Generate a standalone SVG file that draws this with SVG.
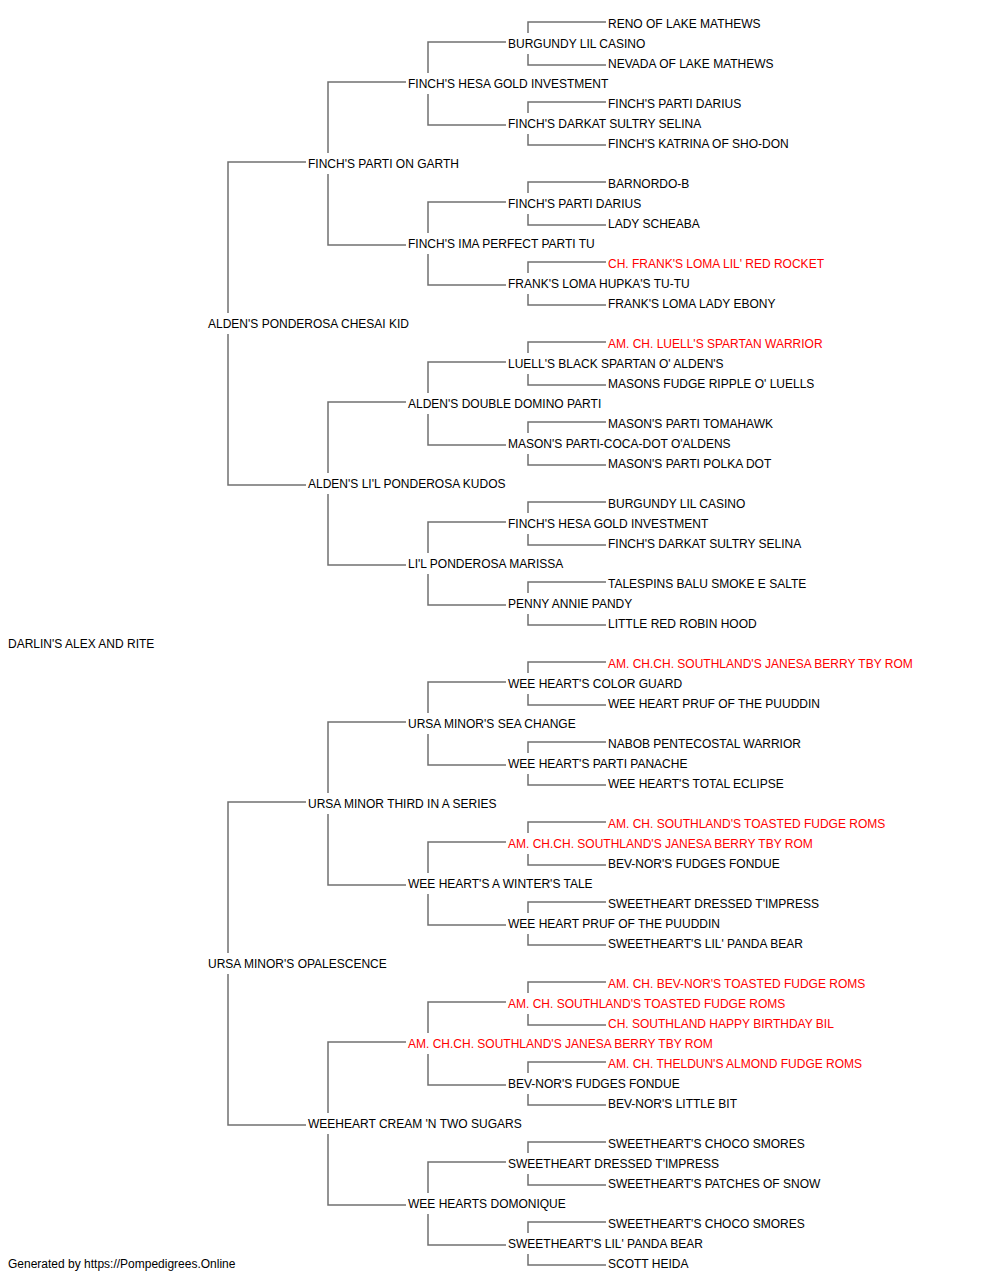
<svg xmlns="http://www.w3.org/2000/svg" width="1000" height="1280" viewBox="0 0 1000 1280">
<style>
text{font-family:"Liberation Sans",Arial,sans-serif;font-size:12px;fill:#000}
text.r{fill:#ff0000}
.c path{stroke:#707070;stroke-width:1.5;fill:none}
</style>
<rect width="1000" height="1280" fill="#fff"/>
<g class="c" id="connectors">
<path d="M228,313V162H306M228,334V485H306M228,953V802H306M228,974V1125H306"/>
<path d="M328,153V82H406M328,174V245H406M328,473V402H406M328,494V565H406M328,793V722H406M328,814V885H406M328,1113V1042H406M328,1134V1205H406"/>
<path d="M428,73V42H506M428,94V125H506M428,233V202H506M428,254V285H506M428,393V362H506M428,414V445H506M428,553V522H506M428,574V605H506M428,713V682H506M428,734V765H506M428,873V842H506M428,894V925H506M428,1033V1002H506M428,1054V1085H506M428,1193V1162H506M428,1214V1245H506"/>
<path d="M528,33V22H606M528,54V65H606M528,113V102H606M528,134V145H606M528,193V182H606M528,214V225H606M528,273V262H606M528,294V305H606M528,353V342H606M528,374V385H606M528,433V422H606M528,454V465H606M528,513V502H606M528,534V545H606M528,593V582H606M528,614V625H606M528,673V662H606M528,694V705H606M528,753V742H606M528,774V785H606M528,833V822H606M528,854V865H606M528,913V902H606M528,934V945H606M528,993V982H606M528,1014V1025H606M528,1073V1062H606M528,1094V1105H606M528,1153V1142H606M528,1174V1185H606M528,1233V1222H606M528,1254V1265H606"/>
</g>
<g id="n0"><text x="608" y="28">RENO OF LAKE MATHEWS</text></g>
<g id="n1"><text x="508" y="48">BURGUNDY LIL CASINO</text></g>
<g id="n2"><text x="608" y="68">NEVADA OF LAKE MATHEWS</text></g>
<g id="n3"><text x="408" y="88">FINCH'S HESA GOLD INVESTMENT</text></g>
<g id="n4"><text x="608" y="108">FINCH'S PARTI DARIUS</text></g>
<g id="n5"><text x="508" y="128">FINCH'S DARKAT SULTRY SELINA</text></g>
<g id="n6"><text x="608" y="148">FINCH'S KATRINA OF SHO-DON</text></g>
<g id="n7"><text x="308" y="168">FINCH'S PARTI ON GARTH</text></g>
<g id="n8"><text x="608" y="188">BARNORDO-B</text></g>
<g id="n9"><text x="508" y="208">FINCH'S PARTI DARIUS</text></g>
<g id="n10"><text x="608" y="228">LADY SCHEABA</text></g>
<g id="n11"><text x="408" y="248">FINCH'S IMA PERFECT PARTI TU</text></g>
<g id="n12"><text class="r" x="608" y="268">CH. FRANK'S LOMA LIL' RED ROCKET</text></g>
<g id="n13"><text x="508" y="288">FRANK'S LOMA HUPKA'S TU-TU</text></g>
<g id="n14"><text x="608" y="308">FRANK'S LOMA LADY EBONY</text></g>
<g id="n15"><text x="208" y="328">ALDEN'S PONDEROSA CHESAI KID</text></g>
<g id="n16"><text class="r" x="608" y="348">AM. CH. LUELL'S SPARTAN WARRIOR</text></g>
<g id="n17"><text x="508" y="368">LUELL'S BLACK SPARTAN O' ALDEN'S</text></g>
<g id="n18"><text x="608" y="388">MASONS FUDGE RIPPLE O' LUELLS</text></g>
<g id="n19"><text x="408" y="408">ALDEN'S DOUBLE DOMINO PARTI</text></g>
<g id="n20"><text x="608" y="428">MASON'S PARTI TOMAHAWK</text></g>
<g id="n21"><text x="508" y="448">MASON'S PARTI-COCA-DOT O'ALDENS</text></g>
<g id="n22"><text x="608" y="468">MASON'S PARTI POLKA DOT</text></g>
<g id="n23"><text x="308" y="488">ALDEN'S LI'L PONDEROSA KUDOS</text></g>
<g id="n24"><text x="608" y="508">BURGUNDY LIL CASINO</text></g>
<g id="n25"><text x="508" y="528">FINCH'S HESA GOLD INVESTMENT</text></g>
<g id="n26"><text x="608" y="548">FINCH'S DARKAT SULTRY SELINA</text></g>
<g id="n27"><text x="408" y="568">LI'L PONDEROSA MARISSA</text></g>
<g id="n28"><text x="608" y="588">TALESPINS BALU SMOKE E SALTE</text></g>
<g id="n29"><text x="508" y="608">PENNY ANNIE PANDY</text></g>
<g id="n30"><text x="608" y="628">LITTLE RED ROBIN HOOD</text></g>
<g id="n31"><text x="8" y="648">DARLIN'S ALEX AND RITE</text></g>
<g id="n32"><text class="r" x="608" y="668">AM. CH.CH. SOUTHLAND'S JANESA BERRY TBY ROM</text></g>
<g id="n33"><text x="508" y="688">WEE HEART'S COLOR GUARD</text></g>
<g id="n34"><text x="608" y="708">WEE HEART PRUF OF THE PUUDDIN</text></g>
<g id="n35"><text x="408" y="728">URSA MINOR'S SEA CHANGE</text></g>
<g id="n36"><text x="608" y="748">NABOB PENTECOSTAL WARRIOR</text></g>
<g id="n37"><text x="508" y="768">WEE HEART'S PARTI PANACHE</text></g>
<g id="n38"><text x="608" y="788">WEE HEART'S TOTAL ECLIPSE</text></g>
<g id="n39"><text x="308" y="808">URSA MINOR THIRD IN A SERIES</text></g>
<g id="n40"><text class="r" x="608" y="828">AM. CH. SOUTHLAND'S TOASTED FUDGE ROMS</text></g>
<g id="n41"><text class="r" x="508" y="848">AM. CH.CH. SOUTHLAND'S JANESA BERRY TBY ROM</text></g>
<g id="n42"><text x="608" y="868">BEV-NOR'S FUDGES FONDUE</text></g>
<g id="n43"><text x="408" y="888">WEE HEART'S A WINTER'S TALE</text></g>
<g id="n44"><text x="608" y="908">SWEETHEART DRESSED T'IMPRESS</text></g>
<g id="n45"><text x="508" y="928">WEE HEART PRUF OF THE PUUDDIN</text></g>
<g id="n46"><text x="608" y="948">SWEETHEART'S LIL' PANDA BEAR</text></g>
<g id="n47"><text x="208" y="968">URSA MINOR'S OPALESCENCE</text></g>
<g id="n48"><text class="r" x="608" y="988">AM. CH. BEV-NOR'S TOASTED FUDGE ROMS</text></g>
<g id="n49"><text class="r" x="508" y="1008">AM. CH. SOUTHLAND'S TOASTED FUDGE ROMS</text></g>
<g id="n50"><text class="r" x="608" y="1028">CH. SOUTHLAND HAPPY BIRTHDAY BIL</text></g>
<g id="n51"><text class="r" x="408" y="1048">AM. CH.CH. SOUTHLAND'S JANESA BERRY TBY ROM</text></g>
<g id="n52"><text class="r" x="608" y="1068">AM. CH. THELDUN'S ALMOND FUDGE ROMS</text></g>
<g id="n53"><text x="508" y="1088">BEV-NOR'S FUDGES FONDUE</text></g>
<g id="n54"><text x="608" y="1108">BEV-NOR'S LITTLE BIT</text></g>
<g id="n55"><text x="308" y="1128">WEEHEART CREAM 'N TWO SUGARS</text></g>
<g id="n56"><text x="608" y="1148">SWEETHEART'S CHOCO SMORES</text></g>
<g id="n57"><text x="508" y="1168">SWEETHEART DRESSED T'IMPRESS</text></g>
<g id="n58"><text x="608" y="1188">SWEETHEART'S PATCHES OF SNOW</text></g>
<g id="n59"><text x="408" y="1208">WEE HEARTS DOMONIQUE</text></g>
<g id="n60"><text x="608" y="1228">SWEETHEART'S CHOCO SMORES</text></g>
<g id="n61"><text x="508" y="1248">SWEETHEART'S LIL' PANDA BEAR</text></g>
<g id="n62"><text x="608" y="1268">SCOTT HEIDA</text></g>
<g id="footer"><text x="8" y="1268">Generated by https://Pompedigrees.Online</text></g>
</svg>
